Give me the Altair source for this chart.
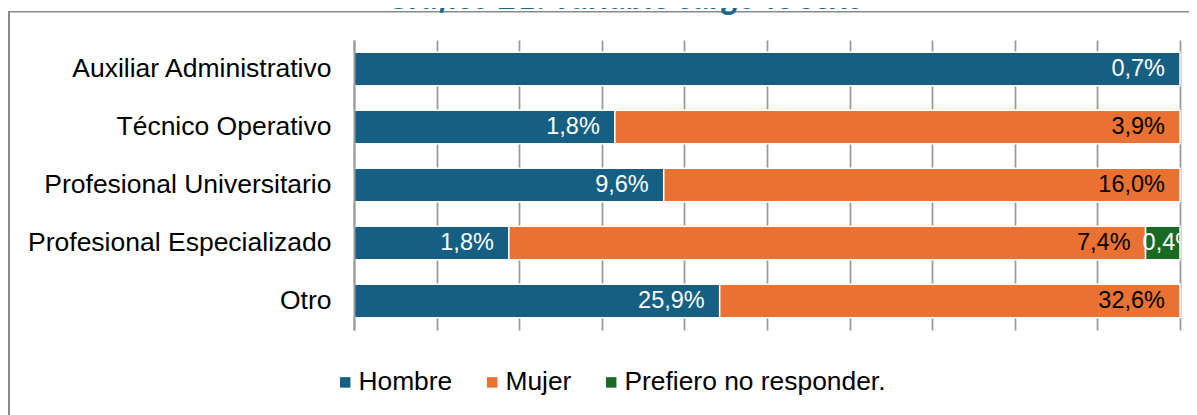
import altair as alt
import pandas as pd

# ---- data ----
categorias = ["Auxiliar Administrativo", "Técnico Operativo", "Profesional Universitario",
              "Profesional Especializado", "Otro"]
series = ["Hombre", "Mujer", "Prefiero no responder."]
hombre = [0.7, 1.8, 9.6, 1.8, 25.9]
mujer = [0.0, 3.9, 16.0, 7.4, 32.6]
prefiero = [0.0, 0.0, 0.0, 0.4, 0.0]
colores = ["#156082", "#E97132", "#196B24"]
x_ticks = [0, 0.1, 0.2, 0.3, 0.4, 0.5, 0.6, 0.7, 0.8, 0.9, 1.0]
titulo = "Gráfico 21. Variable cargo vs sexo"

rows = []
for i, cat in enumerate(categorias):
    for j, (s, vals) in enumerate(zip(series, [hombre, mujer, prefiero])):
        v = vals[i]
        if v > 0:
            rows.append({"cargo": cat, "sexo": s, "orden": j, "valor": v,
                         "etiqueta": f"{v:.1f}".replace(".", ",") + "%"})
df = pd.DataFrame(rows)

W, H = 826, 290
PAD = {"left": 346, "top": 32, "right": 9, "bottom": 85}
FONT = "Liberation Sans"

base = alt.Chart(df).transform_stack(
    stack="valor", as_=["v0", "v1"], groupby=["cargo"],
    sort=[alt.SortField("orden")], offset="normalize"
)

y_enc = alt.Y(
    "cargo:N", sort=categorias, title=None,
    scale=alt.Scale(paddingInner=0.42, paddingOuter=0.21),
    axis=alt.Axis(domain=True, domainColor="#999999", domainWidth=2, ticks=False, tickSize=0,
                  labelPadding=23, labelFont=FONT, labelFontSize=26.5, labelColor="black",
                  labelLimit=400, grid=False, zindex=1),
)

bars = base.mark_bar(stroke="white", strokeWidth=1.5).encode(
    x=alt.X("v0:Q", scale=alt.Scale(domain=[0, 1], nice=False), title=None,
            axis=alt.Axis(values=x_ticks, labels=False, ticks=False, domain=False, grid=True,
                          gridColor="#999999", gridWidth=1.75)),
    x2="v1:Q",
    y=y_enc,
    color=alt.Color("sexo:N", scale=alt.Scale(domain=series, range=colores), title=None,
                    legend=alt.Legend(orient="none", legendX=-22, legendY=329,
                                      direction="horizontal", symbolType="square",
                                      symbolSize=110, symbolStrokeWidth=0,
                                      labelFont=FONT, labelFontSize=26.4, labelColor="black",
                                      labelOffset=0, columnPadding=26, padding=0,
                                      labelLimit=400)),
)

def etiquetas(sexo, color, align, campo, dx):
    return base.transform_filter(alt.datum.sexo == sexo).mark_text(
        align=align, baseline="middle", dx=dx, color=color, font=FONT,
        fontSize=23.5, clip=True
    ).encode(x=f"{campo}:Q", y=y_enc, text="etiqueta:N")

txt_h = etiquetas("Hombre", "white", "right", "v1", -15)
txt_m = etiquetas("Mujer", "black", "right", "v1", -15)
txt_p = etiquetas("Prefiero no responder.", "white", "left", "v0", -3)

uno = pd.DataFrame({"k": [0]})
marco_izq = alt.Chart(uno).mark_rule(color="#8a8a8a", strokeWidth=2).encode(
    x=alt.value(-345), y=alt.value(-29), y2=alt.value(H + PAD["bottom"]))
marco_sup = alt.Chart(uno).mark_rule(color="#8a8a8a", strokeWidth=1.5).encode(
    x=alt.value(-346), x2=alt.value(W + PAD["right"]), y=alt.value(-28.3))

tit = alt.Chart(pd.DataFrame({"t": [titulo]})).mark_text(
    align="right", baseline="alphabetic", font="Lato", fontStyle="italic",
    fontWeight="bold", fontSize=34, color="#1B6A8C"
).encode(x=alt.value(865 - 354), y=alt.value(-31), text="t:N")

chart = alt.layer(marco_izq, marco_sup, tit, bars, txt_h, txt_m, txt_p).properties(
    width=W, height=H, autosize=alt.AutoSizeParams(type="none"), padding=PAD
).configure_view(strokeWidth=0)

chart.save("out.html", embed_options={"renderer": "svg", "actions": False})
